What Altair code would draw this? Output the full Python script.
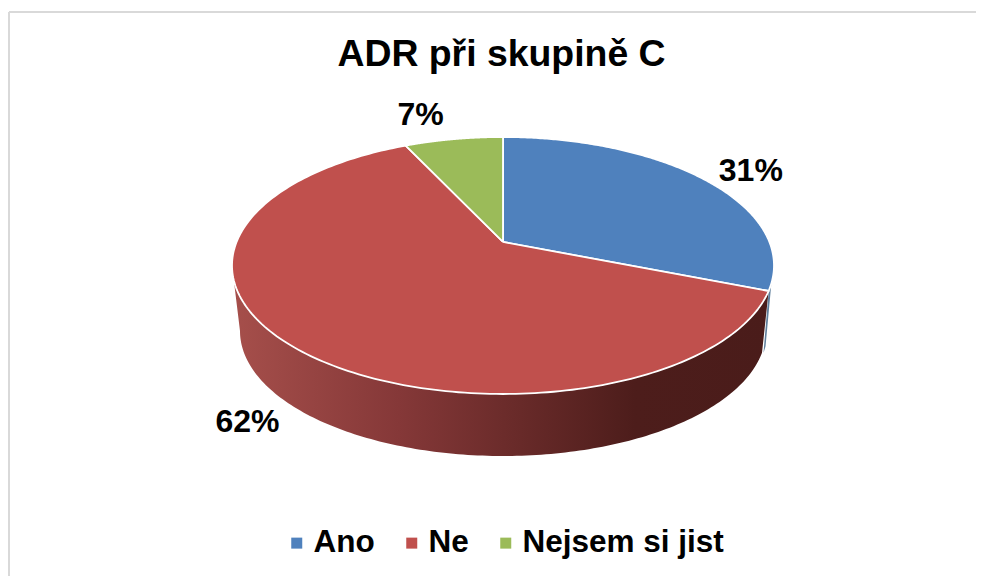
import numpy as np
import pandas as pd
import altair as alt

categories = ["Ano", "Ne", "Nejsem si jist"]
values = [31, 62, 7]
colors = ["#4F81BD", "#C0504D", "#9BBB59"]
labels = ["31%", "62%", "7%"]
title_text = "ADR při skupině C"
FONT = "Liberation Sans"

# Pie geometry in picture units
CX, CY, RX, RY, TILT = 503.0, 265.5, 271.0, 128.5, 0.183
LOW_CY, LOW_RX, LOW_RY = 331.0, 263.0, 125.0


def rim(theta, cy=CY, rx=RX, ry=RY):
    """Perspective view of a circle point at clockwise angle theta from 12 o'clock."""
    u, v = np.sin(theta), np.cos(theta)
    d = 1 + TILT * v
    X = u * np.sqrt(1 - TILT ** 2) / d
    Y = (v + TILT) / d
    return CX + rx * X, cy - ry * Y


xdom = alt.Scale(domain=[8, 976], nice=False, zero=False)
ydom = alt.Scale(domain=[576, 8], nice=False, zero=False)
X = alt.X("x:Q", scale=xdom, axis=None)
Y = alt.Y("y:Q", scale=ydom, axis=None)


def polygon(xs, ys, **mark):
    df = pd.DataFrame({"x": xs, "y": ys, "i": np.arange(len(xs))})
    return alt.Chart(df).mark_line(**mark).encode(x=X, y=Y, order="i:Q")


fr = np.array(values) / sum(values) * 2 * np.pi
starts = np.concatenate([[0], np.cumsum(fr)[:-1]])
ends = np.cumsum(fr)

# side wall of the red slice
wt = np.linspace(np.radians(101.4), np.radians(270), 160)
tx, ty = CX + RX * np.sin(wt), CY - RY * np.cos(wt)
lt = np.linspace(np.radians(270), np.radians(100), 160)
lx, ly = CX + LOW_RX * np.sin(lt), LOW_CY - LOW_RY * np.cos(lt)
wall_grad = alt.Gradient(
    gradient="linear", x1=0, x2=1, y1=0, y2=0,
    stops=[
        alt.GradientStop(color="#A64F4B", offset=0),
        alt.GradientStop(color="#853838", offset=0.31),
        alt.GradientStop(color="#4D1D1B", offset=0.75),
        alt.GradientStop(color="#4A1C1A", offset=1),
    ],
)
wall = polygon(np.r_[tx, lx, tx[0]], np.r_[ty, ly, ty[0]], fill=wall_grad, strokeWidth=0)

# thin visible edge of the blue slice
bt = np.linspace(np.radians(98), np.radians(101.4), 6)
bx, by = CX + RX * np.sin(bt), CY - RY * np.cos(bt)
blt = np.linspace(np.radians(100), np.radians(97), 6)
blx, bly = CX + LOW_RX * np.sin(blt) + 1.5, LOW_CY - LOW_RY * np.cos(blt)
sliver = polygon(np.r_[bx, blx, bx[0]], np.r_[by, bly, by[0]], fill="#5F7F9C", strokeWidth=0)

# top face slices
slices = []
for s, e, c in zip(starts, ends, colors):
    th = np.linspace(s, e, 200)
    rx_, ry_ = rim(th)
    cx0, cy0 = CX, CY - RY * TILT
    slices.append(polygon(np.r_[cx0, rx_, cx0], np.r_[cy0, ry_, cy0],
                          fill=c, stroke="white", strokeWidth=1.8, strokeJoin="round"))

# percentage labels, anchored on the rim at each slice's mid angle
offsets = [(48, -8), (-45, 76), (-33, -24)]
text_layers = []
for s, e, lab, (dx, dy) in zip(starts, ends, labels, offsets):
    mx, my = rim(np.array([(s + e) / 2]))
    d = pd.DataFrame({"x": mx, "y": my, "t": [lab]})
    text_layers.append(
        alt.Chart(d).mark_text(font=FONT, fontWeight="bold", fontSize=32, color="black",
                               dx=dx, dy=dy, align="center", baseline="middle")
        .encode(x=X, y=Y, text="t:N")
    )

# frame lines
frame_l = alt.Chart(pd.DataFrame({"a": [0]})).mark_rule(color="#D9D9D9", strokeWidth=2).encode(
    x=alt.value(1), y=alt.value(4), y2=alt.value(568))
frame_t = alt.Chart(pd.DataFrame({"a": [0]})).mark_rule(color="#D9D9D9", strokeWidth=2).encode(
    x=alt.value(1), x2=alt.value(968), y=alt.value(4))

# legend carrier
legend_df = pd.DataFrame({"cat": categories, "x": [-100, -100, -100], "y": [-100, -100, -100]})
legend_layer = alt.Chart(legend_df).mark_square(size=0, clip=True).encode(
    x=X, y=Y,
    color=alt.Color(
        "cat:N",
        scale=alt.Scale(domain=categories, range=colors),
        legend=alt.Legend(
            title=None, orient="none", legendX=273, legendY=519, direction="horizontal",
            columns=3, symbolType="square", symbolSize=121, symbolStrokeWidth=0,
            labelFont=FONT, labelFontWeight="bold", labelFontSize=31.5, labelColor="black",
            labelLimit=400, columnPadding=21, labelOffset=1, symbolOpacity=1,
        ),
    ),
)

chart = alt.layer(frame_l, frame_t, wall, sliver, *slices, *text_layers, legend_layer).properties(
    width=968, height=568, padding=0, autosize="none",
    title=alt.TitleParams(title_text, font=FONT, fontWeight="bold", fontSize=37.4, color="black",
                          anchor="middle", frame="group", baseline="middle", dx=9.5, dy=88),
).configure_view(stroke=None)

chart.save("out.html", embed_options={"renderer": "svg", "actions": False})
